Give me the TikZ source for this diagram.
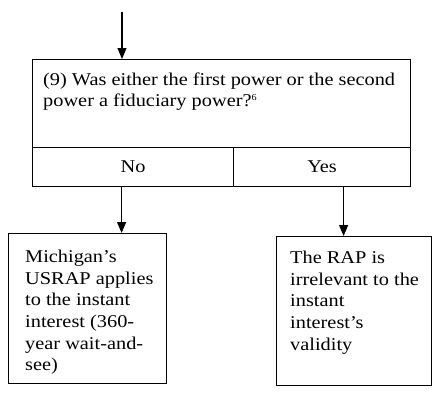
\documentclass[tikz,border=0pt]{standalone}
\usepackage{fontspec}
\setmainfont{Liberation Serif}[FakeStretch=1.13]
\usetikzlibrary{arrows.meta}

\tikzstyle{cell} = [draw, anchor=north west, inner sep=0pt, line width=1.2pt]
\tikzstyle{txt} = [anchor=north west, align=left, inner xsep=11pt, inner ysep=14pt]
\tikzstyle{arr} = [line width=1.2pt, -{Triangle[length=11pt,width=9pt]}]

\begin{document}
\begin{tikzpicture}[x=1pt, y=-1pt, font=\fontsize{18}{21}\selectfont]
\useasboundingbox (0,0) rectangle (433,402);
\coordinate (in) at (122,12);
% question and its two answers
\node[cell, minimum width=378pt, minimum height=88pt,
    label={[txt]north west:(9) Was either the first power or the second\\power a fiduciary power?\raisebox{6pt}{\fontsize{9}{9}\selectfont 6}}]
    (q) at (32,59) {};
\node[cell, minimum width=201pt, minimum height=39pt] (no) at (32,147) {No};
\node[cell, minimum width=177pt, minimum height=39pt] (yes) at (233,147) {Yes};
% outcomes
\node[cell, minimum width=158pt, minimum height=150pt,
    label={[txt, inner xsep=17pt, inner ysep=17pt, font=\fontsize{18}{21.6}\selectfont]north west:Michigan's\\USRAP applies\\to the instant\\interest (360-\\year wait-and-\\see)}]
    (usrap) at (8,233) {};
\node[cell, minimum width=155pt, minimum height=149pt,
    label={[txt, inner xsep=14pt, inner ysep=15pt, font=\fontsize{18}{21.6}\selectfont]north west:The RAP is\\irrelevant to the\\instant\\interest's\\validity}]
    (irrel) at (276,236) {};
\draw[arr] (in) -- (in |- q.north);
\draw[arr] ([xshift=-11.5pt]no.south) -- ([xshift=34pt]usrap.north);
\draw[arr] ([xshift=21.5pt]yes.south) -- ([xshift=-10.5pt]irrel.north);
\end{tikzpicture}
\end{document}
